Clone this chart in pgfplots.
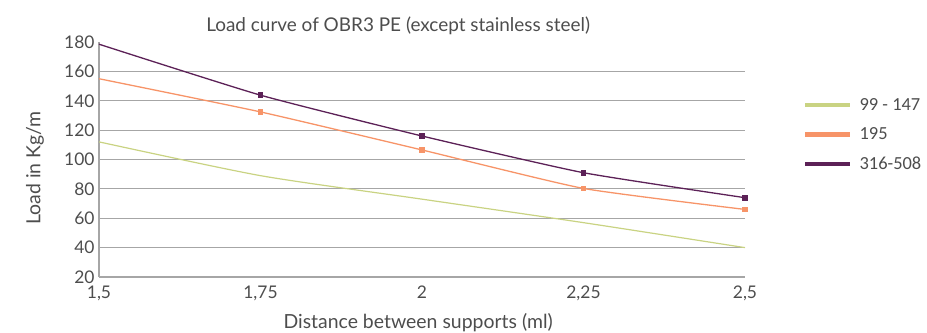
\documentclass[border=0pt]{standalone}
\usepackage{pgfplots}
\pgfplotsset{compat=1.18}
\usepackage{fontspec}
\setmainfont{Lato}
\newfontfamily\legfont{Carlito}
\definecolor{cgreen}{HTML}{C9D382}
\definecolor{corange}{HTML}{F79468}
\definecolor{cpurple}{HTML}{5C2157}
\definecolor{cgrid}{HTML}{A6A6A6}
\definecolor{ctext}{HTML}{4D4D4D}
\begin{document}
\begin{tikzpicture}
\path[use as bounding box] (-99bp,-56bp) rectangle (828bp,277bp);
\begin{axis}[
  at={(0,0)}, anchor=south west,
  scale only axis, width=646bp, height=235bp,
  xmin=1.5, xmax=2.5, ymin=20, ymax=180,
  axis x line=bottom, axis y line=left,
  axis line style={cgrid, line width=1.2bp, -},
  xtick={1.5,1.75,2,2.25,2.5},
  xticklabels={{1,5},{1,75},{2},{2,25},{2,5}},
  ytick={20,40,...,180},
  extra y ticks={40,60,...,160},
  extra y tick labels={},
  extra y tick style={ymajorgrids=true, major grid style={cgrid, line width=1.2bp}},
  major tick length=0pt,
  ticklabel style={font=\fontsize{17.5}{19}\selectfont, text=ctext},
  /pgf/number format/assume math mode=true,
  xticklabel style={yshift=-5bp},
  yticklabel style={xshift=-1bp},
  clip=false,
  legend style={at={(1.085,0.775)}, anchor=north west, draw=none, fill=none,
    text=ctext, row sep=14bp,
    nodes={inner sep=1bp, font=\legfont\fontsize{18.5}{20}\selectfont}},
  legend cell align=left,
  legend image code/.code={\draw[line width=4.5bp] (0bp,0bp) -- (45bp,0bp);},
]
\addplot[cgreen, line width=1.2bp, smooth, tension=0.4] coordinates {
  (1.5,112) (1.75,89) (2,73) (2.25,57) (2.5,40)};
\addlegendentry{\hspace{6bp}99 - 147}
\addplot[corange, line width=1.3bp, smooth, tension=0.3, mark=square*, mark size=2.2bp,
  mark indices={2,3,4,5}] coordinates {
  (1.5,155) (1.75,132.4) (2,106.5) (2.25,80.3) (2.5,66)};
\addlegendentry{\hspace{6bp}195}
\addplot[cpurple, line width=1.3bp, smooth, tension=0.3, mark=square*, mark size=2.2bp,
  mark indices={2,3,4,5}] coordinates {
  (1.5,178.5) (1.75,143.8) (2,116) (2.25,91) (2.5,74)};
\addlegendentry{\hspace{6bp}316-508}
\node[text=ctext, font=\fontsize{19}{21}\selectfont] at (rel axis cs:0.463,1.068) {Load curve of OBR3 PE (except stainless steel)};
\node[text=ctext, font=\fontsize{19.5}{21}\selectfont] at (rel axis cs:0.494,-0.196) {Distance between supports (ml)};
\node[text=ctext, font=\fontsize{19.5}{21}\selectfont, rotate=90] at (rel axis cs:-0.099,0.464) {Load in Kg/m};
\end{axis}
\end{tikzpicture}
\end{document}
